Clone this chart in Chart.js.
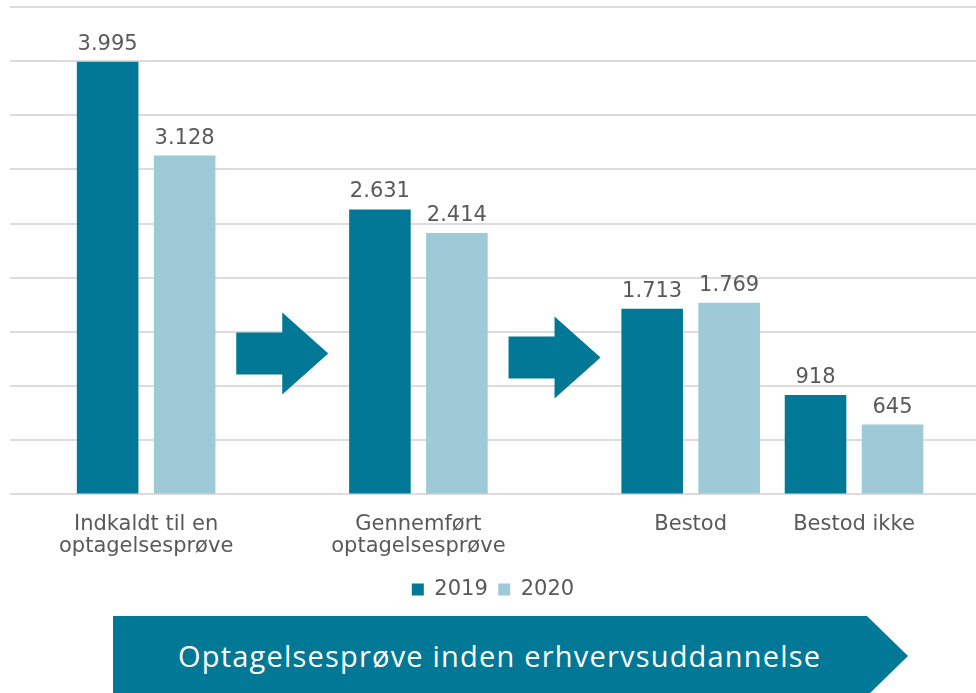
<!DOCTYPE html>
<html>
<head>
<meta charset="utf-8">
<script src="https://cdn.jsdelivr.net/npm/chart.js@4.4.0/dist/chart.umd.min.js"></script>
<style>
    html, body { margin: 0; padding: 0; background: #fff; overflow: hidden; }
    #wrap { position: relative; width: 976px; height: 693px; }
    #banner {
        position: absolute; left: 113px; top: 616px; width: 795px; height: 80px;
        background: #007896; color: #fff;
        clip-path: polygon(0 0, calc(100% - 41px) 0, 100% 50%, calc(100% - 41px) 100%, 0 100%);
        font-family: "Open Sans", sans-serif; font-size: 29px; letter-spacing: 1.2px;
        line-height: 80px; padding-left: 65px; box-sizing: border-box; white-space: nowrap;
    }
</style>
</head>
<body>
<div id="wrap">
    <canvas id="chart" width="976" height="625"></canvas>
    <div id="banner">Optagelsesprøve inden erhvervsuddannelse</div>
</div>
<script>
const categories = [["Indkaldt til en", "optagelsesprøve"], ["Gennemført", "optagelsesprøve"], "Bestod", "Bestod ikke"];
const values2019 = [3995, 2631, 1713, 918];
const values2020 = [3128, 2414, 1769, 645];
const yMax = 4500;
const yStep = 500;

// where each category sits on the x axis (layout slots, uneven on purpose)
const slots = [1, 6, 11, 14];
const arrowLevels = [1300, 1265];

const dark = '#007896';
const light = '#9dcad6';
const textGray = '#595959';

function fmt(v) {
    return String(v).replace(/\B(?=(\d{3})+(?!\d))/g, '.');
}

const decor = {
    id: 'decor',
    beforeDatasetsDraw(chart) {
        const ctx = chart.ctx;
        const xs = chart.scales.x, ys = chart.scales.y;
        ctx.save();
        ctx.fillStyle = dark;
        for (let i = 0; i < 2; i++) {
            let cx = (xs.getPixelForValue(slots[i]) + xs.getPixelForValue(slots[i + 1])) / 2;
            let cy = ys.getPixelForValue(arrowLevels[i]);
            ctx.beginPath();
            ctx.moveTo(cx - 46, cy - 21);
            ctx.lineTo(cx, cy - 21);
            ctx.lineTo(cx, cy - 41);
            ctx.lineTo(cx + 46, cy);
            ctx.lineTo(cx, cy + 41);
            ctx.lineTo(cx, cy + 21);
            ctx.lineTo(cx - 46, cy + 21);
            ctx.closePath();
            ctx.fill();
        }
        ctx.restore();
    },
    afterDatasetsDraw(chart) {
        const ctx = chart.ctx;
        ctx.save();
        ctx.fillStyle = textGray;
        ctx.font = '21px "DejaVu Sans"';
        ctx.textAlign = 'center';
        ctx.textBaseline = 'alphabetic';
        chart.data.datasets.forEach((ds, i) => {
            chart.getDatasetMeta(i).data.forEach((bar, j) => {
                ctx.fillText(fmt(ds.data[j].y), bar.x, bar.y - 12);
            });
        });
        ctx.restore();
    }
};

new Chart(document.getElementById('chart'), {
    type: 'bar',
    data: {
        datasets: [{
            label: '2019',
            data: slots.map((s, i) => ({x: s, y: values2019[i]})),
            backgroundColor: dark
        }, {
            label: '2020',
            data: slots.map((s, i) => ({x: s, y: values2020[i]})),
            backgroundColor: light
        }]
    },
    options: {
        responsive: false,
        animation: false,
        categoryPercentage: 0.9425,
        barPercentage: 0.8,
        layout: { padding: { left: 10, top: 7, right: 0, bottom: 15 } },
        plugins: {
            legend: {
                position: 'bottom',
                labels: {
                    boxWidth: 12, boxHeight: 12, padding: 10.5, color: textGray,
                    font: { family: 'DejaVu Sans', size: 21 }
                }
            },
            tooltip: { enabled: false }
        },
        scales: {
            x: {
                type: 'linear',
                offset: false,
                min: -1.5,
                max: 16.24,
                grid: { display: false, offset: false },
                border: { display: false },
                afterBuildTicks: axis => { axis.ticks = slots.map(v => ({value: v})); },
                ticks: {
                    autoSkip: false, maxRotation: 0, padding: 11,
                    color: textGray,
                    font: { family: 'DejaVu Sans', size: 21, lineHeight: 1.05 },
                    callback: (value, index) => categories[index]
                }
            },
            y: {
                min: 0,
                max: yMax,
                grid: { color: '#dcdcdc', lineWidth: 2, drawTicks: false },
                border: { display: false },
                ticks: { display: false, stepSize: yStep }
            }
        }
    },
    plugins: [decor]
});
</script>
</body>
</html>
